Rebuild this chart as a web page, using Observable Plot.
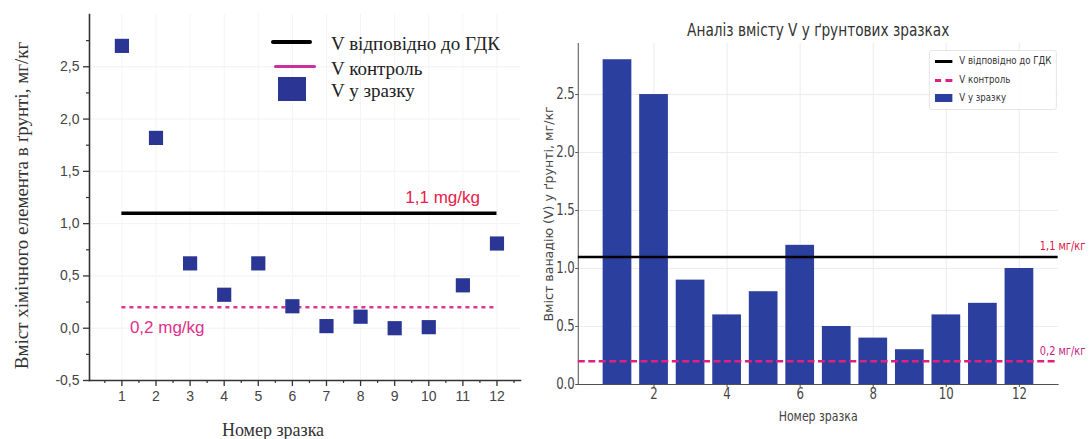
<!DOCTYPE html>
<html>
<head>
<meta charset="utf-8">
<script src="https://cdn.jsdelivr.net/npm/d3@7"></script>
<script src="https://cdn.jsdelivr.net/npm/@observablehq/plot@0.6"></script>
<style>
  body { margin: 0; background: #fff; }
  #wrap { position: relative; width: 1089px; height: 439px; overflow: hidden; background: #fff; }
  #left { position: absolute; left: 0; top: 0; width: 540px; height: 439px; }
  #right { position: absolute; left: 540px; top: 0; width: 549px; height: 439px; overflow: hidden; }
  #rightInner { position: absolute; left: 0; top: 0; width: 631px; height: 439px; transform: scaleX(0.87); transform-origin: 0 0; }
  .lg { position: absolute; white-space: nowrap; }
  #legL { font-family: "Liberation Serif", "Times New Roman", serif; font-size: 19px; color: #222; }
  #legR { position: absolute; left: 447px; top: 50px; width: 145px; height: 58px; border: 1px solid #e3e3e3; border-radius: 3px; background: rgba(255,255,255,0.85);
          font-family: "DejaVu Sans Condensed", "DejaVu Sans", sans-serif; font-size: 11px; color: #333; }
</style>
</head>
<body>
<div id="wrap">
  <div id="left"></div>
  <div id="right"><div id="rightInner"></div></div>
</div>
<script>
// ---------- data ----------
const samples = [1, 2, 3, 4, 5, 6, 7, 8, 9, 10, 11, 12];
const scatterValues = [2.70, 1.82, 0.62, 0.32, 0.62, 0.21, 0.02, 0.11, 0.00, 0.01, 0.41, 0.81];
const barValues = [2.8, 2.5, 0.9, 0.6, 0.8, 1.2, 0.5, 0.4, 0.3, 0.6, 0.7, 1.0];
const gdkLevel = 1.1;
const controlLevel = 0.2;
const leftYTicks = [-0.5, 0, 0.5, 1.0, 1.5, 2.0, 2.5];
const leftYMinor = [-0.25, 0.25, 0.75, 1.25, 1.75, 2.25, 2.75];
const leftXTicks = samples;
const leftXMinor = [0.5, 1.5, 2.5, 3.5, 4.5, 5.5, 6.5, 7.5, 8.5, 9.5, 10.5, 11.5, 12.5];
const rightYTicks = [0, 0.5, 1.0, 1.5, 2.0, 2.5];
const rightXTicks = [2, 4, 6, 8, 10, 12];
const legendLabels = ["V відповідно до ГДК", "V контроль", "V у зразку"];
const leftYLabel = "Вміст хімічного елемента в ґрунті, мг/кг";
const leftXLabel = "Номер зразка";
const leftGdkLabel = "1,1 mg/kg";
const leftCtrlLabel = "0,2 mg/kg";
const rightTitle = "Аналіз вмісту V у ґрунтових зразках";
const rightYLabel = "Вміст ванадію (V) у ґрунті, мг/кг";
const rightXLabel = "Номер зразка";
const rightGdkLabel = "1,1 мг/кг";
const rightCtrlLabel = "0,2 мг/кг";

const scatterData = samples.map((s, i) => ({sample: s, value: scatterValues[i]}));
const barData = samples.map((s, i) => ({sample: s, value: barValues[i]}));

const blueSq = "#2b3594";
const blueBar = "#2b3f9e";

// ---------- left chart ----------
const commaFmt = d => d3.format(".1f")(d).replace(".", ",").replace("\u2212", "-");
const lxDomain = [0.05, 12.69];
const lyDomain = [-0.5, 3.0];

const left = Plot.plot({
  width: 540, height: 439,
  marginLeft: 89, marginRight: 20, marginTop: 14, marginBottom: 59,
  x: {domain: lxDomain},
  y: {domain: lyDomain},
  style: {fontFamily: "'Liberation Sans', Arial, sans-serif", fontSize: "14px", color: "#444", background: "transparent"},
  marks: [
    Plot.gridY(leftYTicks, {stroke: "#f1f1f1", strokeOpacity: 1}),
    Plot.gridX(leftXTicks, {stroke: "#f4f4f4", strokeOpacity: 1}),
    Plot.axisY(leftYTicks, {tickSize: 6, tickPadding: 4, tickFormat: commaFmt, label: null, stroke: "#333", strokeWidth: 1.3, fill: "#444"}),
    Plot.axisY(leftYMinor, {tickSize: 3, text: null, label: null, stroke: "#333", strokeWidth: 1.2}),
    Plot.axisX(leftXTicks, {tickSize: 6, tickPadding: 5, label: null, stroke: "#333", strokeWidth: 1.3, fill: "#444"}),
    Plot.axisX(leftXMinor, {tickSize: 3, text: null, label: null, stroke: "#333", strokeWidth: 1.2}),
    Plot.frame({anchor: "left", stroke: "#333", strokeWidth: 1.6}),
    Plot.frame({anchor: "bottom", stroke: "#333", strokeWidth: 1.6}),
    Plot.ruleY([gdkLevel], {x1: () => samples[0], x2: () => samples[samples.length - 1], stroke: "#000", strokeWidth: 3.5}),
    Plot.ruleY([controlLevel], {x1: () => samples[0], x2: () => samples[samples.length - 1], stroke: "#e2348c", strokeWidth: 2.5, strokeDasharray: "4,4"}),
    Plot.dot(scatterData, {x: "sample", y: "value", symbol: "square", r: 8, fill: blueSq, stroke: "none"}),
    Plot.text([leftGdkLabel], {x: () => samples[samples.length - 1], y: () => gdkLevel, text: d => d, dx: -17, dy: -16, textAnchor: "end", fill: "#e8204a", fontSize: 17}),
    Plot.text([leftCtrlLabel], {x: () => samples[0], y: () => controlLevel, text: d => d, dx: 8, dy: 20, textAnchor: "start", fill: "#e0308a", fontSize: 17}),
    Plot.text([leftYLabel], {frameAnchor: "left", text: d => d, rotate: -90, textAnchor: "middle", lineAnchor: "middle", dx: -68, dy: 8, fill: "#333", fontSize: 19, fontFamily: "'Liberation Serif', 'Times New Roman', serif"}),
    Plot.text([leftXLabel], {frameAnchor: "bottom", text: d => d, textAnchor: "middle", lineAnchor: "middle", dx: -32, dy: 50, fill: "#333", fontSize: 18, fontFamily: "'Liberation Serif', 'Times New Roman', serif"})
  ]
});
document.getElementById("left").appendChild(left);

// left legend
const legL = document.createElement("div");
legL.id = "legL";
legL.style.position = "absolute"; legL.style.left = "0"; legL.style.top = "0";
legL.innerHTML = `
  <div class="lg" style="left:271px;top:40px;width:41px;height:4px;background:#000;border-radius:2px;"></div>
  <div class="lg" style="left:331px;top:33px;">${legendLabels[0]}</div>
  <div class="lg" style="left:274px;top:65px;width:42px;height:3px;background:#c8329a;border-radius:2px;"></div>
  <div class="lg" style="left:331px;top:58px;">${legendLabels[1]}</div>
  <div class="lg" style="left:278px;top:77px;width:28px;height:24px;background:${blueSq};"></div>
  <div class="lg" style="left:331px;top:80px;">${legendLabels[2]}</div>`;
document.getElementById("left").appendChild(legL);

// ---------- right chart (drawn wider, then narrowed like the reference) ----------
const right = Plot.plot({
  width: 631, height: 439,
  marginLeft: 43.5, marginRight: 36, marginTop: 43, marginBottom: 55,
  x: {type: "band", domain: samples, paddingInner: 0.22, paddingOuter: 0.59},
  y: {domain: [0, 2.94]},
  style: {fontFamily: "'DejaVu Sans Condensed', 'DejaVu Sans', sans-serif", fontSize: "15px", color: "#444", background: "transparent"},
  marks: [
    Plot.gridY(rightYTicks.slice(1), {stroke: "#ebebeb", strokeOpacity: 1}),
    Plot.gridX(rightXTicks, {stroke: "#ebebeb", strokeOpacity: 1}),
    Plot.barY(barData, {x: "sample", y: "value", fill: blueBar}),
    Plot.frame({anchor: "left", stroke: "#444", strokeWidth: 1}),
    Plot.frame({anchor: "bottom", stroke: "#444", strokeWidth: 1}),
    Plot.ruleY([gdkLevel], {stroke: "#000", strokeWidth: 2.5}),
    Plot.ruleY([controlLevel], {stroke: "#e0207f", strokeWidth: 2.5, strokeDasharray: "8,4"}),
    Plot.axisY(rightYTicks, {tickSize: 3, tickPadding: 1, tickFormat: d3.format(".1f"), label: null, stroke: "#444", fill: "#444"}),
    Plot.axisX(rightXTicks, {tickSize: 3, tickPadding: 1, label: null, stroke: "#444", fill: "#444"}),
    Plot.text([rightGdkLabel], {frameAnchor: "right", y: () => gdkLevel, text: d => d, dx: -21, dy: -11, textAnchor: "start", fill: "#e0123f", fontSize: 12.5}),
    Plot.text([rightCtrlLabel], {frameAnchor: "right", y: () => controlLevel, text: d => d, dx: -21, dy: -10, textAnchor: "start", fill: "#c4227e", fontSize: 12.5}),
    Plot.text([rightTitle], {frameAnchor: "top", text: d => d, textAnchor: "middle", lineAnchor: "middle", dy: -13, fill: "#333", fontSize: 17.5}),
    Plot.text([rightYLabel], {frameAnchor: "left", text: d => d, rotate: -90, textAnchor: "middle", lineAnchor: "middle", dx: -33, fill: "#444", fontSize: 14}),
    Plot.text([rightXLabel], {frameAnchor: "bottom", text: d => d, textAnchor: "middle", lineAnchor: "middle", dy: 32, fill: "#444", fontSize: 14})
  ]
});
document.getElementById("rightInner").appendChild(right);

// right legend
const legR = document.createElement("div");
legR.id = "legR";
legR.innerHTML = `
  <div class="lg" style="left:6px;top:9px;width:20px;height:2.5px;background:#000;"></div>
  <div class="lg" style="left:34px;top:3px;">${legendLabels[0]}</div>
  <div class="lg" style="left:6px;top:28px;width:7px;height:2.5px;background:#e0207f;"></div>
  <div class="lg" style="left:18px;top:28px;width:8px;height:2.5px;background:#e0207f;"></div>
  <div class="lg" style="left:34px;top:22px;">${legendLabels[1]}</div>
  <div class="lg" style="left:6px;top:43px;width:20px;height:8px;background:${blueBar};"></div>
  <div class="lg" style="left:34px;top:40px;">${legendLabels[2]}</div>`;
document.getElementById("rightInner").appendChild(legR);
</script>
</body>
</html>
